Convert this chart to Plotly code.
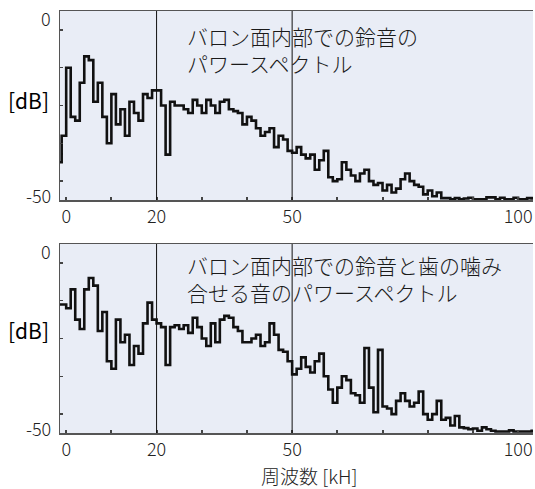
import plotly.graph_objects as go

# frequency bins (kHz, left edge of each step)
freq_khz = list(range(-2, 104))

top_db = [
    -40, -33, -15, -28, -29, -19, -12, -13, -24, -19,
    -28, -35, -22, -30, -26, -33, -24, -27, -29, -22,
    -23, -21, -21, -25, -38, -24, -25, -25, -26, -27,
    -23.5, -25, -27, -23.5, -25, -27, -24, -23.5, -26, -26.5,
    -27, -30, -28, -29, -31, -33, -32, -31, -36, -33,
    -34, -37, -37.5, -36, -38, -39, -38, -42, -39.5, -37,
    -44, -45, -44.5, -40, -42, -43.5, -45, -43, -42, -45,
    -46, -45.5, -47.5, -46, -48, -47, -44.5, -43, -45, -46,
    -46.5, -48.5, -47.5, -49, -48, -49.5, -49.5, -49.8, -49.5, -49.8,
    -49.6, -49.4, -49.8, -49.8, -49.8, -49.3, -49.3, -49.8, -49.4, -49.8,
    -49.8, -49.4, -49.8, -49.8, -49.5, -49.6,
]

bottom_db = [
    -16, -16, -17, -12, -20, -22.5, -12, -9, -11, -23,
    -18, -31, -33, -20, -26, -24, -32, -27, -29, -21,
    -15.5, -20, -21, -22, -32, -22, -21.5, -22.5, -21.5, -23.5,
    -19.5, -22, -25, -27, -21, -26, -20, -19, -19.5, -22,
    -23, -26, -26, -25, -24, -27, -26, -21, -24, -28,
    -28.5, -31, -34.5, -33, -30, -32.5, -34, -31, -29, -35,
    -38.5, -42, -38, -35, -36, -39.5, -40, -42, -27.5, -38,
    -44.5, -28, -43, -43.5, -45, -41.5, -39.5, -41.5, -43, -42,
    -39, -45, -46.5, -45, -41.5, -46.5, -46, -48, -45.5, -48.5,
    -48.7, -49, -48.8, -49.4, -48.5, -49, -49.4, -49.6, -49.6, -49.6,
    -49.3, -49.6, -49.6, -49.6, -49.6, -49.4,
]

x_tick_vals = [0, 20, 50, 100]
x_tick_text = ["0", "20", "50", "100"]
y_tick_vals = [0, -50]
y_tick_text = ["0", "-50"]
marker_khz = [20, 50]
panel_titles = [
    "バロン面内部での鈴音の<br>パワースペクトル",
    "バロン面内部での鈴音と歯の噛み<br>合せる音のパワースペクトル",
]
y_label = "[dB]"
x_label = "周波数 [kH]"

FONT = "Noto Sans CJK JP, Noto Sans, sans-serif"
BG = "#e9edf6"
LINE = "#111111"

x_end = freq_khz[-1] + 1

fig = go.Figure()
for i, series in enumerate([top_db, bottom_db]):
    sfx = "" if i == 0 else "2"
    fig.add_trace(go.Scatter(
        x=freq_khz + [x_end], y=series + [series[-1]],
        mode="lines", line=dict(color=LINE, width=2.6, shape="hv"),
        xaxis="x" + sfx, yaxis="y" + sfx, showlegend=False, hoverinfo="skip",
    ))

domains = [(0.591, 0.9775), (0.1145, 0.501)]
axis_common_x = dict(
    range=[-1.37, 103.3], tickmode="array", tickvals=x_tick_vals, ticktext=x_tick_text,
    ticks="", showgrid=False, zeroline=False, showline=True, linecolor="#555",
    linewidth=1.5, mirror=True,
    tickfont=dict(family=FONT, size=18, color="#222", weight=300),
    minor=dict(ticks="inside", ticklen=3, tickwidth=2, tickcolor="#444",
               tickmode="linear", tick0=0, dtick=10, showgrid=False),
)
axis_common_y = dict(
    range=[-50, 0], showticklabels=False, ticks="", showgrid=False, zeroline=False,
    showline=True, linecolor="#555", linewidth=1.5, mirror=False,
    minor=dict(ticks="inside", ticklen=3, tickwidth=1.5, tickcolor="#444",
               tickmode="linear", tick0=0, dtick=5, showgrid=False),
)

fig.update_layout(
    width=535, height=489,
    margin=dict(l=60, r=2, t=0, b=0),
    paper_bgcolor="white", plot_bgcolor=BG,
    xaxis=dict(domain=[0, 1], anchor="y", **axis_common_x),
    yaxis=dict(domain=list(domains[0]), anchor="x", **axis_common_y),
    xaxis2=dict(domain=[0, 1], anchor="y2", **axis_common_x),
    yaxis2=dict(domain=list(domains[1]), anchor="x2", **axis_common_y),
    font=dict(family=FONT, color="#222"),
)

shapes = []
annotations = []
for i in range(2):
    sfx = "" if i == 0 else "2"
    for m in marker_khz:
        shapes.append(dict(type="line", xref="x" + sfx, yref="y" + sfx + " domain",
                           x0=m, x1=m, y0=0, y1=1, line=dict(color="#111", width=1)))
    for v, t in zip(y_tick_vals, y_tick_text):
        annotations.append(dict(
            text=t, xref="paper", x=0, xanchor="right", xshift=-7,
            yref="y" + sfx, y=v, yanchor="middle", yshift=(-7 if v == 0 else 5),
            showarrow=False, font=dict(family=FONT, size=18, color="#222", weight=300)))
    annotations.append(dict(
        text=y_label, xref="paper", x=0, xanchor="right", xshift=-9,
        yref="y" + sfx + " domain", y=(0.529 if i == 0 else 0.545), yanchor="middle",
        showarrow=False, font=dict(family=FONT, size=21, color="#000", weight=400)))
    annotations.append(dict(
        text=panel_titles[i], xref="x" + sfx + " domain", x=0.264, xanchor="left",
        yref="y" + sfx + " domain", y=(0.794 if i == 0 else 0.82), yanchor="middle",
        align="left", showarrow=False,
        font=dict(family=FONT, size=21, color="#1a1a1a", weight=300)))

annotations.append(dict(
    text=x_label, xref="paper", x=0.5285, xanchor="center",
    yref="paper", y=0.028, yanchor="middle", showarrow=False,
    font=dict(family=FONT, size=19, color="#222", weight=300)))

fig.update_layout(shapes=shapes, annotations=annotations)
fig.write_html(
    "out.html",
    config={"displayModeBar": False, "staticPlot": True},
    post_script="document.body.style.margin='0';document.body.style.overflow='hidden';",
)
